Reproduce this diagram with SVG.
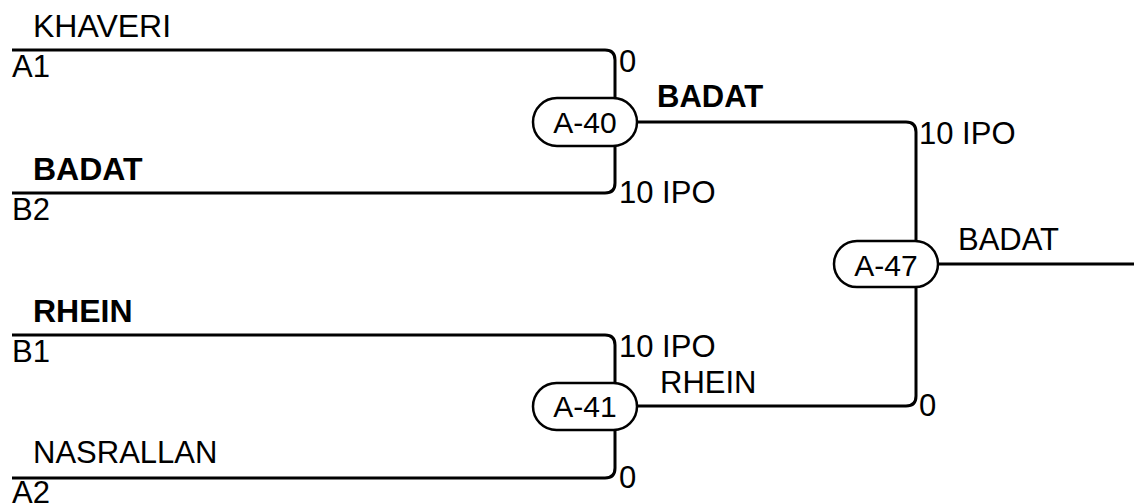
<svg xmlns="http://www.w3.org/2000/svg" width="1134" height="504" viewBox="0 0 1134 504">
<style>
text{font-family:"Liberation Sans",Arial,sans-serif;font-size:31px;fill:#000}
.b{font-weight:bold}
.w{font-size:32px}
.m{text-anchor:middle;font-size:30px}
.ln{fill:none;stroke:#000;stroke-width:3}
.pill{fill:#fff;stroke:#000;stroke-width:2.5}
</style>
<rect width="1134" height="504" fill="#fff"/>
<g id="connectors">
<path class="ln" d="M12,50 H605 Q615,50 615,60 V98"/>
<path class="ln" d="M12,193 H605 Q615,193 615,183 V146"/>
<path class="ln" d="M637,122 H906 Q916,122 916,132 V242"/>
<path class="ln" d="M12,335 H605 Q615,335 615,345 V383"/>
<path class="ln" d="M12,478 H605 Q615,478 615,468 V430"/>
<path class="ln" d="M637,406 H906 Q916,406 916,396 V287"/>
<path class="ln" d="M938,264 H1134"/>
</g>
<g id="labels">
<text class="w" x="33" y="37">KHAVERI</text>
<text x="12" y="77">A1</text>
<text class="b w" x="33" y="180">BADAT</text>
<text x="12" y="220">B2</text>
<text x="619" y="72">0</text>
<text x="619" y="203">10 IPO</text>
<text class="b" x="657" y="107">BADAT</text>
<text x="919" y="144">10 IPO</text>
<text x="958" y="250">BADAT</text>
<text x="919" y="416">0</text>
<text class="b w" x="33" y="322">RHEIN</text>
<text x="12" y="362">B1</text>
<text x="33" y="463">NASRALLAN</text>
<text x="12" y="503">A2</text>
<text x="619" y="357">10 IPO</text>
<text x="660" y="393">RHEIN</text>
<text x="619" y="488">0</text>
</g>
<g id="A-40">
<rect class="pill" x="533" y="98" width="104" height="48" rx="24"/>
<text class="m" x="585" y="133">A-40</text>
</g>
<g id="A-41">
<rect class="pill" x="533" y="383" width="104" height="47" rx="23.5"/>
<text class="m" x="585" y="417">A-41</text>
</g>
<g id="A-47">
<rect class="pill" x="834" y="241" width="104" height="46" rx="23"/>
<text class="m" x="886" y="276">A-47</text>
</g>
</svg>
